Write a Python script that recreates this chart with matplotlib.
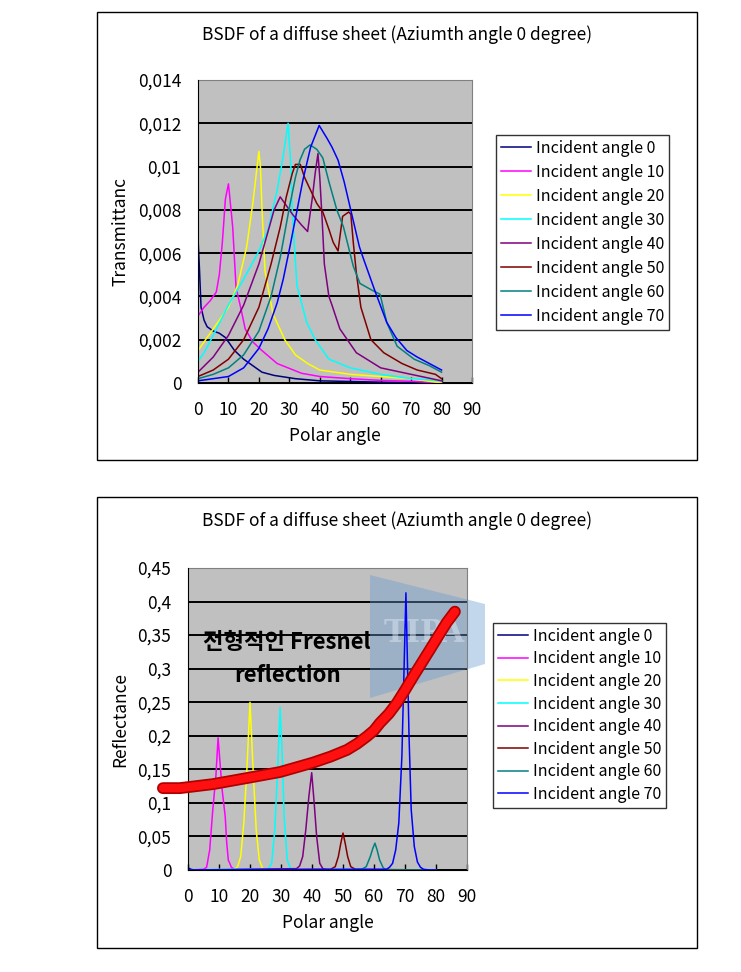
import matplotlib
matplotlib.use("Agg")
import matplotlib.pyplot as plt
import matplotlib.patheffects as pe
from matplotlib.patches import Rectangle, Polygon

plt.rcParams["font.family"] = ["Noto Sans CJK KR", "DejaVu Sans"]

# ──────────────────────────────────────────────────────────────────────────
# Data
# ──────────────────────────────────────────────────────────────────────────

labels = ["Incident angle 0", "Incident angle 10", "Incident angle 20",
          "Incident angle 30", "Incident angle 40", "Incident angle 50",
          "Incident angle 60", "Incident angle 70"]
colors = ["#000080", "#FF00FF", "#FFFF00", "#00FFFF",
          "#800080", "#800000", "#008080", "#0000FF"]

# transmittance (top chart): one (polar angle, value) pair of lists per series
t0_x = [0, 0.5, 1, 2, 3, 5, 7, 9, 10, 12, 15, 18, 21, 25, 32, 40, 50, 60, 80]
t0_y = [0.0067, 0.0052, 0.0035, 0.0029, 0.0026, 0.0024, 0.0023, 0.0021, 0.0019,
        0.0015, 0.0011, 0.0008, 0.0005, 0.00035, 0.0002, 0.0001, 0.00007, 0.00004, 0.0]

t10_x = [0, 2, 4, 6, 7, 8, 9, 10, 10.5, 11.4, 12.5, 14, 15.5, 18, 21, 26, 34, 40,
         50, 60, 70, 80]
t10_y = [0.0031, 0.0035, 0.0038, 0.0042, 0.0050, 0.0065, 0.0085, 0.0092, 0.0085,
         0.0072, 0.0044, 0.0035, 0.0025, 0.0019, 0.0015, 0.0009, 0.00045, 0.0003,
         0.0002, 0.00012, 0.00008, 0.0]

t20_x = [0, 5, 10, 13, 16, 18, 19, 20, 20.5, 21, 22, 24.6, 28.5, 32, 36, 40, 50,
         60, 70, 80]
t20_y = [0.0015, 0.0025, 0.0035, 0.0045, 0.0063, 0.0083, 0.0095, 0.0107, 0.0100,
         0.0081, 0.0052, 0.0032, 0.0020, 0.0013, 0.0009, 0.0006, 0.0004, 0.0003,
         0.0002, 0.0]

t30_x = [0, 2, 5, 10, 15, 20, 23, 26, 28, 29.6, 30.5, 31, 32.5, 35.7, 38.5, 43,
         50, 60, 70, 80]
t30_y = [0.0010, 0.0014, 0.0022, 0.0036, 0.0048, 0.0061, 0.0071, 0.0089, 0.0105,
         0.0120, 0.0100, 0.0078, 0.0045, 0.0028, 0.0020, 0.0011, 0.0007, 0.0004,
         0.0002, 0.0001]

t40_x = [0, 5, 10, 15, 20, 23, 25, 27, 29, 31, 34, 36, 37.5, 38.5, 39.4, 40, 40.8,
         41.5, 43, 44, 46.6, 52, 60, 70, 80]
t40_y = [0.0005, 0.0012, 0.0022, 0.0036, 0.0055, 0.0070, 0.0080, 0.0086, 0.0082,
         0.0078, 0.0073, 0.0070, 0.0085, 0.0097, 0.0106, 0.0095, 0.0075, 0.0055,
         0.0040, 0.0036, 0.0025, 0.0014, 0.0007, 0.0004, 0.0001]

t50_x = [0, 5, 10, 15, 20, 24, 27, 29, 31, 32, 33.6, 35, 37, 39, 41, 43, 44.4, 46,
         47.5, 49.5, 50.2, 51, 52, 53.5, 56.8, 61, 67, 72, 78, 80]
t50_y = [0.0003, 0.0006, 0.0011, 0.0020, 0.0035, 0.0055, 0.0072, 0.0086, 0.0097,
         0.0101, 0.0101, 0.0095, 0.0089, 0.0083, 0.0079, 0.0071, 0.0065, 0.0061,
         0.0077, 0.0079, 0.0078, 0.0065, 0.0051, 0.0035, 0.0020, 0.0014, 0.0009,
         0.0006, 0.0004, 0.0002]

t60_x = [0, 5, 10, 15, 20, 24, 27, 30, 32, 33.5, 35, 36.8, 39, 41, 43, 45.6, 47.8,
         51, 53.2, 57, 59.8, 62, 65.4, 71, 76, 80]
t60_y = [0.0002, 0.0004, 0.0007, 0.0013, 0.0024, 0.0040, 0.0058, 0.0081, 0.0095,
         0.0103, 0.0108, 0.0110, 0.0108, 0.0104, 0.0093, 0.0080, 0.0072, 0.0054,
         0.0046, 0.0043, 0.0041, 0.0028, 0.0017, 0.0011, 0.0008, 0.0005]

t70_x = [0, 5, 10, 15, 20, 23, 26, 28, 30.2, 32, 34.5, 37, 39.8, 42.4, 44, 46, 48,
         50, 53, 54.2, 58, 62, 65, 68.6, 72, 76, 80]
t70_y = [0.0001, 0.0002, 0.0003, 0.0007, 0.0016, 0.0025, 0.0037, 0.0048, 0.0063,
         0.0076, 0.0094, 0.0109, 0.0119, 0.0113, 0.0109, 0.0103, 0.0093, 0.0081,
         0.0063, 0.0058, 0.0043, 0.0028, 0.0021, 0.0015, 0.0012, 0.0009, 0.0006]

# reflectance (bottom chart)
r0_x = [0, 1, 2, 80]
r0_y = [0.003, 0.001, 0.0, 0.0]

r10_x = [0, 5, 6, 7, 8, 9, 9.7, 10.5, 11, 12, 12.5, 13, 14, 15, 80]
r10_y = [0.0, 0.001, 0.004, 0.03, 0.09, 0.14, 0.197, 0.15, 0.12, 0.08, 0.04,
         0.015, 0.004, 0.001, 0.0]

r20_x = [0, 15, 16, 17, 18, 19, 20, 21, 22, 23, 24, 25, 80]
r20_y = [0.0, 0.001, 0.005, 0.02, 0.07, 0.15, 0.25, 0.15, 0.06, 0.015, 0.003, 0.0, 0.0]

r30_x = [0, 26, 27, 28, 29, 29.7, 30.5, 31, 32, 33, 34, 80]
r30_y = [0.0, 0.002, 0.01, 0.06, 0.16, 0.242, 0.16, 0.08, 0.015, 0.003, 0.0, 0.0]

r40_x = [0, 35, 36, 37, 38, 39, 39.9, 40.7, 41.5, 42.5, 43.5, 45, 80]
r40_y = [0.0, 0.002, 0.006, 0.02, 0.06, 0.11, 0.145, 0.10, 0.05, 0.01, 0.002, 0.0, 0.0]

r50_x = [0, 46, 47.5, 48.5, 49.3, 50, 50.7, 51.5, 52.5, 54, 80]
r50_y = [0.0, 0.001, 0.005, 0.02, 0.04, 0.055, 0.04, 0.02, 0.005, 0.001, 0.0]

r60_x = [0, 56, 57.5, 58.8, 59.6, 60.3, 61, 61.8, 63, 64, 80]
r60_y = [0.0, 0.001, 0.005, 0.02, 0.032, 0.04, 0.03, 0.015, 0.003, 0.0, 0.0]

r70_x = [0, 64, 65, 66, 67, 68, 69, 70.3, 71.3, 72, 73, 74, 75, 76, 78, 80]
r70_y = [0.0, 0.001, 0.004, 0.01, 0.03, 0.07, 0.17, 0.413, 0.2, 0.09, 0.035, 0.012,
         0.004, 0.001, 0.0, 0.0]

# hand-drawn "typical Fresnel reflection" guide curve
fresnel_x = [-8.1, -2.6, 8.1, 19, 29.7, 40.3, 46, 51.3, 54.5, 57.7, 60, 61.9, 64.8,
             67.4, 70, 72.6, 75.3, 78, 80.8, 83.5, 86.1]
fresnel_y = [0.122, 0.122, 0.128, 0.137, 0.146, 0.160, 0.169, 0.179, 0.188, 0.199,
             0.208, 0.219, 0.233, 0.249, 0.268, 0.288, 0.308, 0.328, 0.349, 0.369,
             0.385]

x_ticks = [0, 10, 20, 30, 40, 50, 60, 70, 80, 90]
t_yticks = [0, 0.002, 0.004, 0.006, 0.008, 0.010, 0.012, 0.014]
t_ylabels = ["0", "0,002", "0,004", "0,006", "0,008", "0,01", "0,012", "0,014"]
r_yticks = [0, 0.05, 0.10, 0.15, 0.20, 0.25, 0.30, 0.35, 0.40, 0.45]
r_ylabels = ["0", "0,05", "0,1", "0,15", "0,2", "0,25", "0,3", "0,35", "0,4", "0,45"]

top_series = [(t0_x, t0_y), (t10_x, t10_y), (t20_x, t20_y), (t30_x, t30_y),
              (t40_x, t40_y), (t50_x, t50_y), (t60_x, t60_y), (t70_x, t70_y)]
bot_series = [(r0_x, r0_y), (r10_x, r10_y), (r20_x, r20_y), (r30_x, r30_y),
              (r40_x, r40_y), (r50_x, r50_y), (r60_x, r60_y), (r70_x, r70_y)]

TITLE = "BSDF of a diffuse sheet (Aziumth angle 0 degree)"

# ──────────────────────────────────────────────────────────────────────────
# Figure
# ──────────────────────────────────────────────────────────────────────────

W, H = 741, 972
fig = plt.figure(figsize=(W / 100, H / 100), dpi=100)


def px_box(x0, y0, x1, y1):
    # pixel box (top-left origin) -> figure fraction [l, b, w, h]
    return [x0 / W, 1 - y1 / H, (x1 - x0) / W, (y1 - y0) / H]


def fpt(x, y):
    return (x / W, 1 - y / H)


def style_axes(ax, yticks, ylabels, ymax):
    ax.set_facecolor("#C0C0C0")
    ax.set_xlim(0, 90)
    ax.set_ylim(0, ymax)
    ax.set_xticks(x_ticks)
    ax.set_yticks(yticks)
    ax.set_yticklabels(ylabels)
    ax.yaxis.grid(True, color="black", linewidth=1.4)
    ax.set_axisbelow(True)
    ax.tick_params(axis="x", direction="in", length=4, width=1, pad=13, labelsize=12.5)
    ax.tick_params(axis="y", length=0, pad=12, labelsize=12.5)
    for side in ("top", "right"):
        ax.spines[side].set_color("#808080")
    for side in ("left", "bottom"):
        ax.spines[side].set_color("black")
        ax.spines[side].set_zorder(5)
    ax.set_xlabel("Polar angle", fontsize=12.5, labelpad=6)


def frame(y0, y1, title_y):
    fig.patches.append(Rectangle(fpt(97, y1), 600 / W, (y1 - y0) / H,
                                 transform=fig.transFigure, fill=False,
                                 edgecolor="black", linewidth=1))
    fig.text(397 / W, 1 - title_y / H, TITLE, ha="center", va="center", fontsize=12.5)


def legend(ax, x, y, spacing):
    leg = ax.legend(loc="upper left", bbox_to_anchor=fpt(x, y),
                    bbox_transform=fig.transFigure, fontsize=11.5, frameon=True,
                    fancybox=False, edgecolor="black", handlelength=1.9,
                    handletextpad=0.3, labelspacing=spacing, borderpad=0.3,
                    borderaxespad=0)
    leg.get_frame().set_linewidth(1)
    return leg


# top chart: transmittance
frame(12, 460, 35)
ax1 = fig.add_axes(px_box(198, 80, 472, 383))
for (xs, ys), c, lab in zip(top_series, colors, labels):
    ax1.plot(xs, ys, color=c, linewidth=1.1, label=lab)
style_axes(ax1, t_yticks, t_ylabels, 0.014)
ax1.set_ylabel("Transmittanc", fontsize=12.5, labelpad=6)
legend(ax1, 496, 135, 0.44)

# bottom chart: reflectance
frame(497, 948, 521)
ax2 = fig.add_axes(px_box(188, 568, 467, 870))
for (xs, ys), c, lab in zip(bot_series, colors, labels):
    ax2.plot(xs, ys, color=c, linewidth=1.1, label=lab)
style_axes(ax2, r_yticks, r_ylabels, 0.45)
ax2.set_ylabel("Reflectance", fontsize=12.5, labelpad=6)

# TIPA watermark (translucent blue pennant + letters), under the data lines
ax2.add_patch(Polygon([fpt(370, 575), fpt(485, 604), fpt(485, 664), fpt(370, 698)],
                      closed=True, transform=fig.transFigure, clip_on=False,
                      facecolor="#6A9BD0", alpha=0.4, edgecolor="none", zorder=1.5))
ax2.text(424 / W, 1 - 634 / H, "TIPA", transform=fig.transFigure,
         ha="center", va="center", fontsize=22, fontweight="bold",
         family=["DejaVu Serif"], color="#DCE6F2", alpha=0.5, zorder=1.6)

ax2.plot(fresnel_x, fresnel_y, color="#FF1010", linewidth=6, clip_on=False,
         solid_capstyle="round", solid_joinstyle="round", zorder=6,
         path_effects=[pe.Stroke(linewidth=8.5, foreground="#B00000"), pe.Normal()])
ax2.text(32, 0.315, "전형적인 Fresnel\nreflection", ha="center", va="center",
         fontsize=16, fontweight="bold", linespacing=1.55, zorder=7,
         family=["Noto Sans CJK KR", "DejaVu Sans"])

legend(ax2, 493, 623, 0.35)

fig.savefig("out.png", dpi=100, facecolor="white")
